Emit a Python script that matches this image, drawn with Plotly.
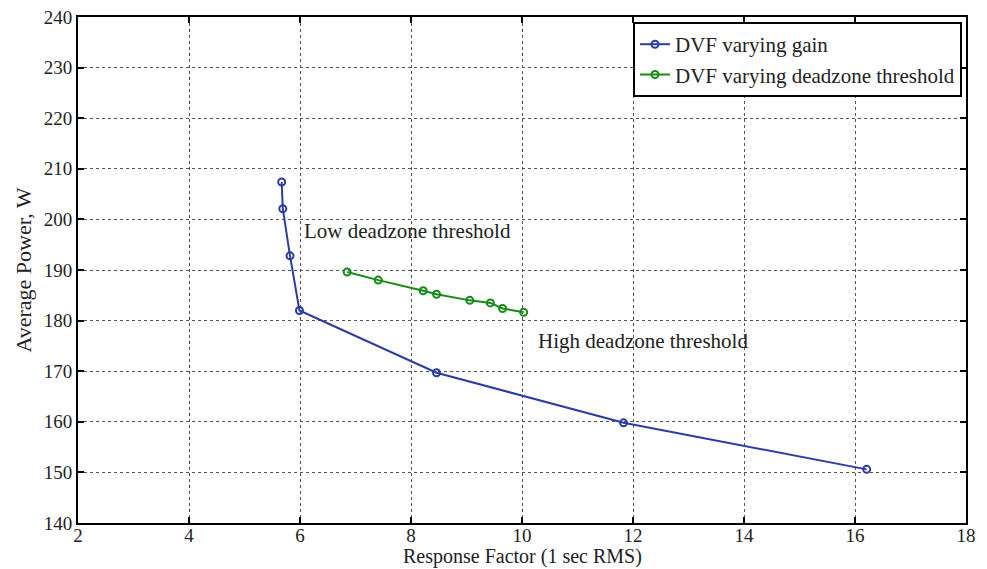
import plotly.graph_objects as go

gain_x = [5.67, 5.69, 5.82, 5.99, 8.46, 11.83, 16.21]
gain_y = [207.4, 202.1, 192.8, 182.0, 169.7, 159.8, 150.6]
dz_x = [6.85, 7.41, 8.22, 8.46, 9.06, 9.43, 9.65, 10.03]
dz_y = [189.6, 188.0, 185.9, 185.2, 184.0, 183.5, 182.4, 181.65]
x_ticks = [2, 4, 6, 8, 10, 12, 14, 16, 18]
y_ticks = [140, 150, 160, 170, 180, 190, 200, 210, 220, 230, 240]

FONT = "Liberation Serif, Times New Roman, serif"
BLUE = "#2b3da3"
GREEN = "#178a17"
TXT = "#222"

fig = go.Figure()
fig.add_trace(go.Scatter(x=gain_x, y=gain_y, mode="lines+markers", name="DVF varying gain",
                         line=dict(color=BLUE, width=2),
                         marker=dict(symbol="circle-open", size=7, color=BLUE, line=dict(width=2))))
fig.add_trace(go.Scatter(x=dz_x, y=dz_y, mode="lines+markers", name="DVF varying deadzone threshold",
                         line=dict(color=GREEN, width=2),
                         marker=dict(symbol="circle-open", size=7, color=GREEN, line=dict(width=2))))

fig.add_annotation(x=6.04, y=197.7, text="Low deadzone threshold", showarrow=False,
                   xanchor="left", yanchor="middle", font=dict(family=FONT, size=21, color=TXT))
fig.add_annotation(x=10.26, y=175.9, text="High deadzone threshold", showarrow=False,
                   xanchor="left", yanchor="middle", font=dict(family=FONT, size=21, color=TXT))
fig.add_annotation(x=0.5, y=-0.092, xref="paper", yref="paper", text="Response Factor (1 sec RMS)",
                   showarrow=False, xanchor="center", yanchor="bottom",
                   font=dict(family=FONT, size=20, color=TXT))

axis_common = dict(showline=True, linecolor="black", linewidth=2, mirror="ticks",
                   ticks="inside", ticklen=6, tickwidth=2, tickcolor="black",
                   showgrid=True, gridcolor="#555", griddash="dot", gridwidth=1,
                   zeroline=False, automargin=False,
                   tickfont=dict(family=FONT, size=19, color=TXT))

fig.update_xaxes(range=[2, 18], tickvals=x_ticks, ticklabelstandoff=-6, **axis_common)
fig.update_yaxes(range=[140, 240], tickvals=y_ticks, title=dict(text="Average Power, W",
                 font=dict(family=FONT, size=22, color=TXT), standoff=6), **axis_common)

fig.update_layout(width=987, height=569, margin=dict(l=78, r=21, t=17, b=46),
                  plot_bgcolor="white", paper_bgcolor="white",
                  font=dict(family=FONT, color=TXT),
                  legend=dict(x=0.9955, y=0.99, xanchor="right", yanchor="top",
                              bgcolor="white", bordercolor="black", borderwidth=2,
                              font=dict(family=FONT, size=21, color=TXT),
                              tracegroupgap=0, itemwidth=30))

fig.write_html("out.html")
